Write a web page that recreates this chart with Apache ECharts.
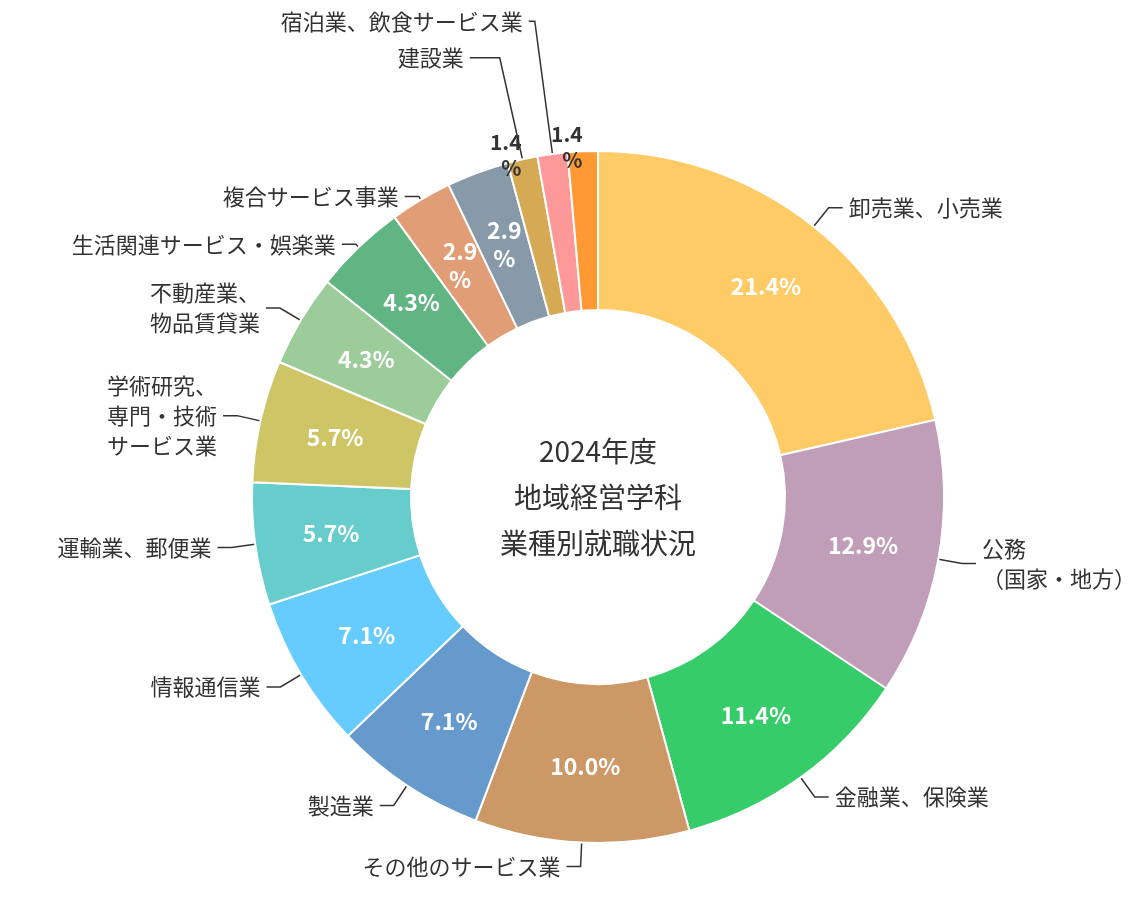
<!DOCTYPE html>
<html><head><meta charset="utf-8">
<script src="https://cdn.jsdelivr.net/npm/echarts@6/dist/echarts.min.js"></script>
<style>html,body{margin:0;background:#fff}#c{width:1134px;height:916px}</style>
</head><body><div id="c"></div>
<script>
const categories = ['卸売業、小売業','公務\n（国家・地方）','金融業、保険業','その他のサービス業','製造業','情報通信業','運輸業、郵便業','学術研究、\n専門・技術\nサービス業','不動産業、\n物品賃貸業','生活関連サービス・娯楽業','複合サービス事業','教育、学習支援業','建設業','宿泊業、飲食サービス業','医療、福祉'];
const values = [21.4,12.9,11.4,10.0,7.1,7.1,5.7,5.7,4.3,4.3,2.9,2.9,1.4,1.4,1.4];
const pctLabels = ['21.4%','12.9%','11.4%','10.0%','7.1%','7.1%','5.7%','5.7%','4.3%','4.3%','2.9\n%','2.9\n%','1.4\n%','1.4\n%','1.4\n%'];
const colors = ['#FECB67','#C19EB8','#35CC69','#CC9865','#6699CC','#66CCFF','#66CCCC','#CDC566','#9BCC99','#60B583','#E09D76','#8899AA','#D6AA55','#FF9999','#FF9933'];
const F = '"Noto Sans CJK JP","Noto Sans",sans-serif';
const chart = echarts.init(document.getElementById('c'));
const center = [598,497];
chart.setOption({
  animation:false,
  textStyle:{fontFamily:F},
  graphic:[{type:'text',style:{text:'2024年度\n地域経営学科\n業種別就職状況',x:598,y:497,textAlign:'center',textVerticalAlign:'middle',fontSize:28,lineHeight:46,fill:'#333',fontFamily:F}}],
  series:[
    {type:'pie',center,radius:[187,346],startAngle:90,clockwise:true,silent:true,avoidLabelOverlap:false,
     itemStyle:{borderColor:'#fff',borderWidth:2},
     data:values.map((v,i)=>({value:v,name:categories[i],itemStyle:{color:colors[i]},
       label: i>=12 ? {show:true,position:'outside',color:'#333',formatter:pctLabels[i],fontSize:21,fontWeight:'bold',lineHeight:26,distanceToLabelLine:0,align:'center'}
                    : {show:true,position:'inside',color:'#fff',formatter:pctLabels[i],fontSize:23,fontWeight:'bold',lineHeight:28},
       labelLine:{show:i>=12,length:4,length2:0,lineStyle:{opacity:0}}})),
    },
    {type:'pie',center,radius:[0,310],startAngle:90,clockwise:true,silent:true,avoidLabelOverlap:false,
     itemStyle:{color:'rgba(0,0,0,0)'},
     label:{show:true,position:'outside',color:'#333',fontSize:22,lineHeight:30,formatter:'{b}',overflow:'none',distanceToLabelLine:6},
     labelLine:{show:true,length:60,length2:14,lineStyle:{color:'#333',width:1.5}},
     data:values.map((v,i)=>({value:v,name:categories[i],
       labelLine: i>=12 ? {length:[140,170,120][i-12],length2:[30,6,6][i-12]} : (i>=9 ? {length:40,length2:14}: undefined)}))
    }
  ]
});
</script></body></html>
